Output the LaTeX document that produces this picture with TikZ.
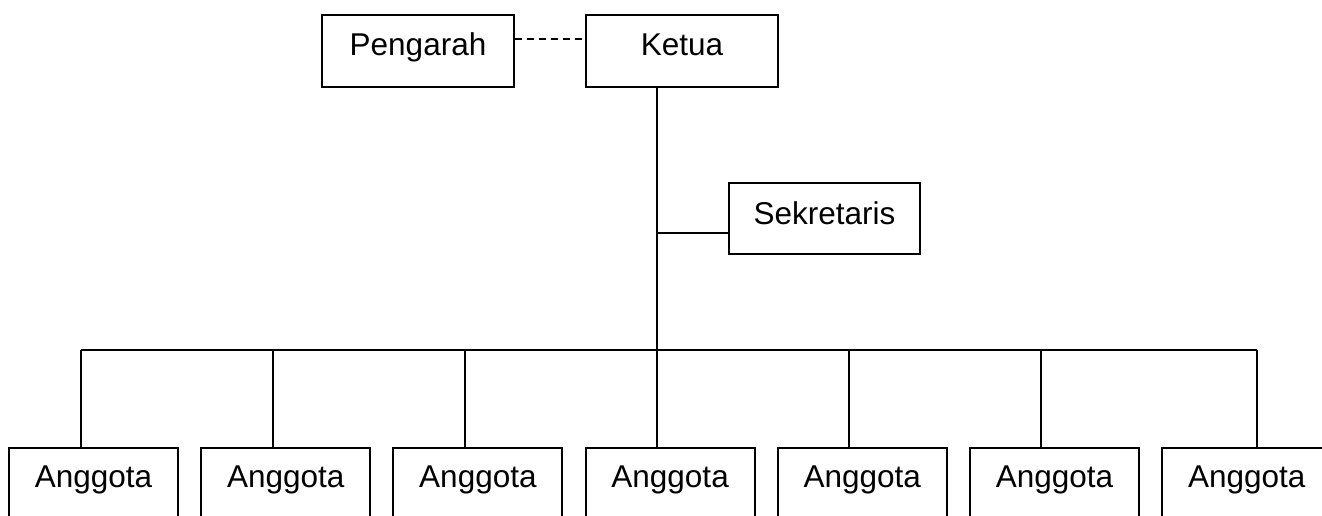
\documentclass[tikz,border=0pt]{standalone}
\usepackage{fontspec}
\setmainfont{Liberation Sans}
\usetikzlibrary{calc}
\tikzset{
	orgbox/.style={draw, line width=2pt, inner sep=0pt, anchor=north west, align=center,
		font=\fontsize{31.5}{37}\selectfont, text height=40pt, text depth=32pt},
	link/.style={line width=2pt}
}

\begin{document}
\begin{tikzpicture}[x=1pt, y=-1pt]
			%%%%% START %%%%%
			\useasboundingbox (0, 0) rectangle (1322, 515);
			
			\node[orgbox, minimum width=192pt] (pengarah) at (321, 14) {Pengarah};
			\node[orgbox, minimum width=192pt] (ketua) at (585, 14) {Ketua};
			\node[orgbox, minimum width=191pt, text height=41pt, text depth=30pt] (sekretaris) at (728, 182) {Sekretaris};
			
			\foreach \i in {1,...,7}
				\node[orgbox, minimum width=169pt, text height=39pt, text depth=33pt] (anggota\i) at ({8 + 192.2*(\i-1)}, 447) {Anggota};
			
			%%%%% LINES %%%%%
			\coordinate (trunk) at (657, 350);
			\draw[line width=1.4pt, dash pattern=on 7pt off 5pt] ($(pengarah.north east)+(0, 25)$) -- ($(ketua.north west)+(0, 25)$);
			\draw[link] (ketua.south -| trunk) -- (trunk);
			\coordinate (sek) at ($(sekretaris.south west)+(0, -22)$);
			\draw[link] (sek -| trunk) -- (sek);
			
			\foreach \i in {1,...,6}
				\coordinate (drop\i) at ({81 + 192*(\i-1)}, 350);
			\coordinate (drop7) at (1257, 350);
			\draw[link] (drop1) -- (drop7);
			\foreach \i in {1,...,7}
				\draw[link] (drop\i) -- (drop\i |- anggota\i.north);
			
			%%%%% END %%%%%
		\end{tikzpicture}
\end{document}
